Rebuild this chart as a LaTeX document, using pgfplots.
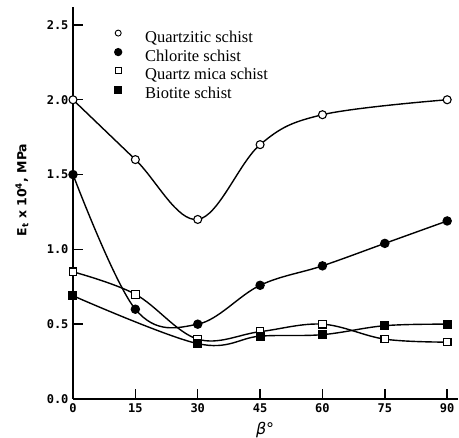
\documentclass[border=0pt]{standalone}
\usepackage{fontspec}
\setmainfont{Liberation Serif}
\newfontfamily\tickfont{DejaVu Sans Mono}
\newfontfamily\labfont{DejaVu Sans}
\usepackage{pgfplots}
\pgfplotsset{compat=1.18}
\begin{document}
\begin{tikzpicture}
\path[use as bounding box] (0,0) rectangle (459pt,438pt);
\begin{axis}[
  at={(73pt,39pt)}, anchor=origin,
  scale only axis, width=385pt, height=392pt,
  xmin=0, xmax=92.6, ymin=0, ymax=2.62,
  axis x line=bottom, axis y line=left,
  axis line style={line width=1.6pt, -},
  xtick={0,15,30,45,60,75,90},
  ytick={0,0.5,1.0,1.5,2.0,2.5},
  yticklabel={\pgfmathprintnumber[fixed, fixed zerofill, precision=1]{\tick}},
  /pgf/number format/assume math mode=true,
  tick align=inside, major tick length=10pt,
  tick style={line width=1.4pt, black},
  ticklabel style={font=\tickfont\bfseries\fontsize{12}{12}\selectfont},
  xticklabel style={yshift=-1pt},
  yticklabel style={xshift=-1pt},
  ylabel={\labfont\bfseries E\textsubscript{t} x 10\textsuperscript{4}, MPa},
  ylabel style={at={(axis description cs:-0.1325,0.533)}, anchor=center, font=\fontsize{12.5}{12.5}\selectfont},
  xlabel={\labfont\itshape β°},
  xlabel style={at={(axis description cs:0.499,-0.079)}, anchor=center, font=\fontsize{16}{16}\selectfont},
  legend style={at={(axis cs:9.62,2.467)}, anchor=north west, draw=none, fill=none,
    inner sep=0pt, column sep=0pt, row sep=2.6pt,
    nodes={inner sep=0pt, text height=12pt, text depth=4pt},
    font=\fontsize{16.5}{16.5}\selectfont},
  legend cell align=left,
  legend image code/.code={\path[draw=none, fill=none] (-5pt,0pt) -- (27pt,0pt); \draw[#1] plot coordinates {(0pt,5pt)};},
  every axis plot/.append style={line width=1.4pt},
]
\addlegendimage{only marks, mark=*, mark options={fill=white, draw=black, line width=0.9pt}, mark size=3pt}
\addlegendentry{Quartzitic schist}
\addlegendimage{only marks, mark=*, mark options={fill=black}, mark size=3.4pt}
\addlegendentry{Chlorite schist}
\addlegendimage{only marks, mark=square*, mark options={fill=white, draw=black, line width=0.9pt}, mark size=3pt}
\addlegendentry{Quartz mica schist}
\addlegendimage{only marks, mark=square*, mark options={fill=black}, mark size=3.3pt}
\addlegendentry{Biotite schist}

% Quartzitic schist
\addplot[black, smooth, tension=0.6, mark=*, mark size=4pt, mark options={fill=white, line width=1.1pt}, forget plot]
  coordinates {(0,2.0) (15,1.6) (30,1.2) (45,1.7) (60,1.9) (90,2.0)};
% Chlorite schist
\addplot[black, smooth, tension=0.6, mark=*, mark size=4pt, mark options={fill=black}, forget plot]
  coordinates {(0,1.5) (15,0.6) (30,0.5) (45,0.76) (60,0.89) (75,1.04) (90,1.19)};
% Quartz mica schist
\addplot[black, smooth, tension=0.6, mark=square*, mark size=3.8pt, mark options={fill=white, line width=1.1pt}, forget plot]
  coordinates {(0,0.85) (15,0.70) (30,0.40) (45,0.45) (60,0.50) (75,0.40) (90,0.38)};
% Biotite schist
\addplot[black, smooth, tension=0.6, mark=square*, mark size=3.8pt, mark options={fill=black}, forget plot]
  coordinates {(0,0.69) (30,0.37) (45,0.42) (60,0.43) (75,0.49) (90,0.50)};
\end{axis}
\end{tikzpicture}
\end{document}
